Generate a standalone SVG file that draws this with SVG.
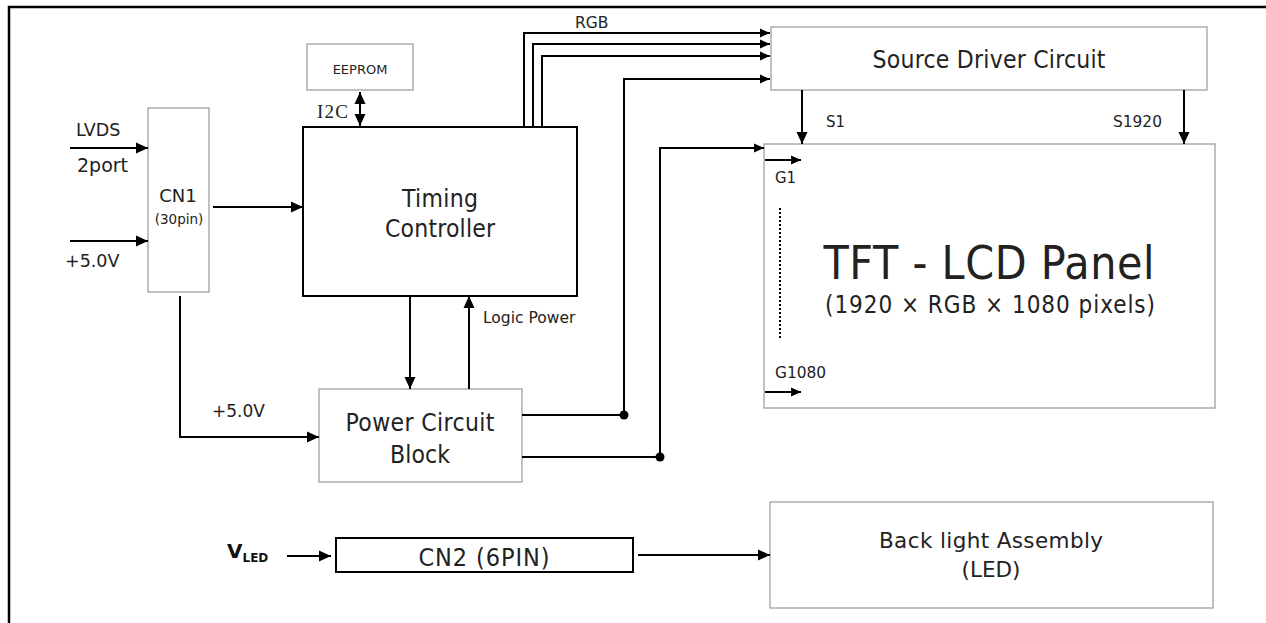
<svg xmlns="http://www.w3.org/2000/svg" width="1266" height="623" viewBox="0 0 1266 623">
<style>
.t{font-family:"DejaVu Sans Condensed","DejaVu Sans",sans-serif;fill:#222}
.r{font-family:"DejaVu Sans",sans-serif;fill:#222}
.g{fill:#fff;stroke:#a0a0a0;stroke-width:1.3}
.k{fill:#fff;stroke:#000;stroke-width:2}
.w{fill:none;stroke:#000;stroke-width:2}
.a{marker-end:url(#ah)}
.s{marker-end:url(#as)}
</style>
<defs>
<marker id="ah" markerUnits="userSpaceOnUse" markerWidth="14" markerHeight="14" refX="12" refY="6.5" orient="auto"><path d="M0,1 L12,6.5 L0,12 z" fill="#000"/></marker>
<marker id="as" markerUnits="userSpaceOnUse" markerWidth="12" markerHeight="12" refX="10" refY="5" orient="auto"><path d="M0,0.5 L10,5 L0,9.5 z" fill="#000"/></marker>
<marker id="ab" markerUnits="userSpaceOnUse" markerWidth="14" markerHeight="14" refX="0" refY="6.5" orient="auto"><path d="M12,1 L0,6.5 L12,12 z" fill="#000"/></marker>
</defs>
<rect width="1266" height="623" fill="#fff"/>
<path d="M9,623 V7 H1266" fill="none" stroke="#000" stroke-width="2.5"/>

<g id="eeprom"><rect class="g" x="307" y="44" width="106" height="46"/><text class="r" x="360" y="74" font-size="13" text-anchor="middle">EEPROM</text></g>
<g id="cn1"><rect class="g" x="148" y="108" width="61" height="184"/><text class="r" x="178" y="202" font-size="18" text-anchor="middle">CN1</text><text class="r" x="179" y="224" font-size="13.5" text-anchor="middle">(30pin)</text></g>
<g id="timing"><rect class="k" x="303" y="127" width="274" height="169"/><text class="t" x="440" y="207" font-size="24.5" text-anchor="middle" textLength="76">Timing</text><text class="t" x="440" y="237" font-size="24.5" text-anchor="middle" textLength="110">Controller</text></g>
<g id="power"><rect class="g" x="319" y="389" width="203" height="93"/><text class="t" x="420" y="431" font-size="24.5" text-anchor="middle" textLength="149">Power Circuit</text><text class="t" x="420" y="463" font-size="24.5" text-anchor="middle" textLength="60">Block</text></g>
<g id="source"><rect class="g" x="771" y="27" width="436" height="63"/><text class="t" x="989" y="68" font-size="24.5" text-anchor="middle" textLength="233">Source Driver Circuit</text></g>
<g id="panel"><rect class="g" x="764" y="144" width="451" height="264"/><text class="t" x="989" y="279" font-size="46" text-anchor="middle" textLength="331">TFT - LCD Panel</text><text class="t" x="990" y="313" font-size="24" text-anchor="middle" textLength="330">(1920 × RGB × 1080 pixels)</text>
<text class="r" x="775" y="183" font-size="15">G1</text><text class="r" x="775" y="378" font-size="15.4">G1080</text>
<line x1="780" y1="208" x2="780" y2="340" stroke="#000" stroke-width="2" stroke-dasharray="2,2"/></g>
<g id="cn2"><rect class="k" x="336" y="538" width="297" height="34"/><text class="t" x="484" y="566" font-size="25" text-anchor="middle" textLength="131">CN2 (6PIN)</text></g>
<g id="backlight"><rect class="g" x="770" y="502" width="443" height="106"/><text class="r" x="991" y="548" font-size="21.5" text-anchor="middle" textLength="224">Back light Assembly</text><text class="r" x="991" y="577" font-size="21.5" text-anchor="middle">(LED)</text></g>

<g id="labels">
<text class="r" x="76" y="136" font-size="17.5">LVDS</text>
<text class="r" x="77" y="172" font-size="19">2port</text>
<text class="r" x="65" y="267" font-size="17.5">+5.0V</text>
<text class="r" x="212" y="417" font-size="17">+5.0V</text>
<text x="317" y="118" font-family="Liberation Serif,serif" font-size="19" fill="#222" textLength="31">I2C</text>
<text class="r" x="575" y="28" font-size="15.5">RGB</text>
<text class="r" x="483" y="323" font-size="15.5">Logic Power</text>
<text class="r" x="826" y="127" font-size="15">S1</text>
<text class="r" x="1113" y="127" font-size="15.4">S1920</text>
<text x="227" y="558" font-family="DejaVu Sans,sans-serif" font-weight="bold" font-size="20" fill="#111">V<tspan font-size="12" dy="4">LED</tspan></text>
</g>

<g id="connectors">
<path class="w a" d="M70,148 H148"/>
<path class="w a" d="M70,241 H148"/>
<path class="w a" d="M213,207 H303"/>
<path class="w a" d="M180,296 V437 H319"/>
<path class="w a" d="M410,296 V389"/>
<path class="w a" d="M469,389 V296"/>
<path class="w" d="M360,92 V126" marker-start="url(#ab)" marker-end="url(#ah)"/>
<path class="w s" d="M524,127 V33 H770"/>
<path class="w s" d="M533,127 V44 H770"/>
<path class="w s" d="M542,127 V56 H770"/>
<path class="w s" d="M522,415 H624 V79 H770"/>
<path class="w s" d="M522,457 H660 V148 H764"/>
<circle cx="624" cy="415" r="4.5"/>
<circle cx="660" cy="457" r="4.5"/>
<path class="w a" d="M802,90 V144"/>
<path class="w a" d="M1184,90 V144"/>
<path class="w s" d="M765,160 H801"/>
<path class="w s" d="M765,392 H801"/>
<path class="w a" d="M287,556 H331"/>
<path class="w a" d="M638,555 H770"/>
</g>
</svg>
